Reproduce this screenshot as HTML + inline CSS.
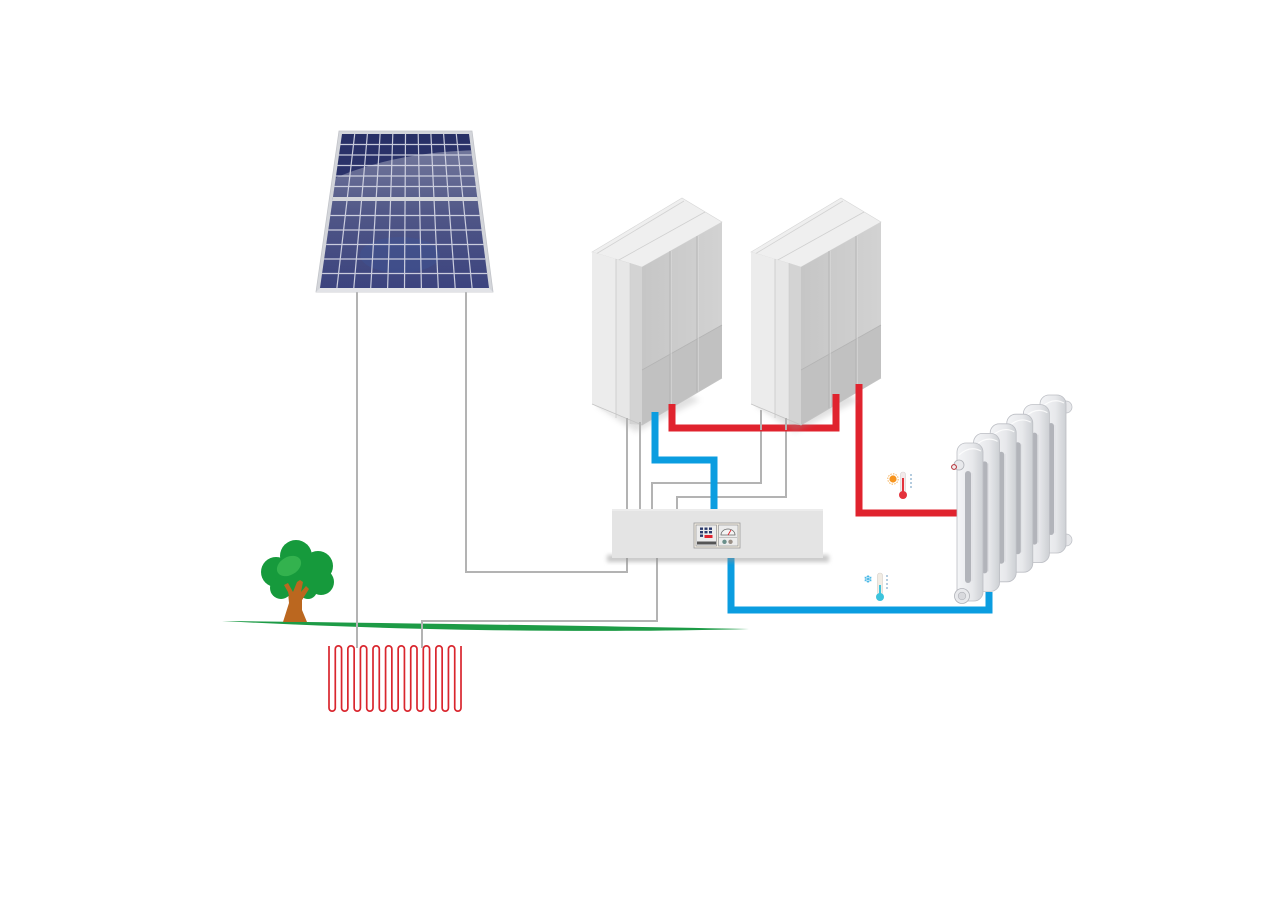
<!DOCTYPE html>
<html><head><meta charset="utf-8"><style>
html,body{margin:0;padding:0;background:#fff;}
svg{display:block;}
</style></head><body>
<svg width="1287" height="908" viewBox="0 0 1287 908" xmlns="http://www.w3.org/2000/svg">
<defs>
  <filter id="blur3" x="-20%" y="-20%" width="140%" height="140%"><feGaussianBlur stdDeviation="3"/></filter>
  <filter id="blur2" x="-20%" y="-50%" width="140%" height="200%"><feGaussianBlur stdDeviation="2"/></filter>
  <linearGradient id="cells" x1="0" y1="0" x2="0" y2="1">
    <stop offset="0" stop-color="#283066"/><stop offset="1" stop-color="#323a78"/>
  </linearGradient>
  <linearGradient id="hl" x1="0" y1="0" x2="0" y2="1">
    <stop offset="0" stop-color="#ffffff" stop-opacity="0.34"/>
    <stop offset="0.45" stop-color="#ffffff" stop-opacity="0.16"/>
    <stop offset="1" stop-color="#ffffff" stop-opacity="0.03"/>
  </linearGradient>
  <clipPath id="cellclip"><polygon points="342,134 469,134 489,288 320,288"/></clipPath>
  <linearGradient id="rad" x1="0" y1="0" x2="1" y2="0">
    <stop offset="0" stop-color="#f4f5f7"/><stop offset="0.6" stop-color="#e7e8eb"/><stop offset="1" stop-color="#cdd0d4"/>
  </linearGradient>
  <linearGradient id="rface" x1="0" y1="0" x2="1" y2="0">
    <stop offset="0" stop-color="#c6c6c6"/><stop offset="1" stop-color="#d2d2d2"/>
  </linearGradient>
  <g id="box">
    <polygon points="596,405 636,432 700,400 660,380" fill="#9a9a9a" opacity="0.3" filter="url(#blur3)"/>
    <polygon points="592,252 682,198 722,222 642,267" fill="#efefef" stroke="#d6d6d6" stroke-width="0.6"/>
    <line x1="596" y1="254" x2="684" y2="201" stroke="#d2d2d2" stroke-width="0.8"/>
    <line x1="617" y1="261" x2="705" y2="212" stroke="#cfcfcf" stroke-width="0.8"/>
    <polygon points="592,252 642,267 642,425 592,404" fill="#e7e7e7"/>
    <polygon points="592,252 616,259 616,418 592,404" fill="#ececec"/>
    <polygon points="630,263 642,267 642,425 630,424" fill="#d3d3d3"/>
    <line x1="616" y1="259" x2="616" y2="418" stroke="#c9c9c9" stroke-width="0.8"/>
    <line x1="630" y1="263" x2="630" y2="424" stroke="#cdcdcd" stroke-width="0.6"/>
    <polygon points="642,267 722,222 722,378 642,425" fill="url(#rface)"/>
    <polygon points="642,370 722,325 722,378 642,425" fill="#c1c1c1"/>
    <line x1="642" y1="370" x2="722" y2="325" stroke="#b4b4b4" stroke-width="0.8"/>
    <line x1="670" y1="251" x2="670" y2="409" stroke="#b3b3b3" stroke-width="0.9"/>
    <line x1="671.2" y1="251" x2="671.2" y2="408" stroke="#dcdcdc" stroke-width="0.7"/>
    <line x1="697" y1="236" x2="697" y2="393" stroke="#b3b3b3" stroke-width="0.9"/>
    <line x1="698.2" y1="236" x2="698.2" y2="392" stroke="#dcdcdc" stroke-width="0.7"/>
    <polyline points="592,404 642,425 722,378" fill="none" stroke="#c4c4c4" stroke-width="0.8"/>
  </g>
  <g id="sec">
    <rect x="0" y="0" width="26" height="158" rx="9" fill="url(#rad)" stroke="#bcbec4" stroke-width="0.8"/>
    <rect x="8" y="28" width="6" height="112" rx="3" fill="#b2b4ba"/>
    <line x1="15" y1="30" x2="15" y2="138" stroke="#dcdde1" stroke-width="0.8"/>
    <path d="M2,12 Q13,2 24,8" fill="none" stroke="#ffffff" stroke-width="1.2" opacity="0.8"/>
  </g>
</defs>

<rect width="1287" height="908" fill="#fff"/>

<!-- ground line -->
<path d="M222,621 C400,623 600,626 749,629 C620,632.5 420,632 222,621 Z" fill="#1d9b46"/>

<!-- tree -->
<g>
  <polygon points="283,622 289,603 288,592 284,585 288,583 293,592 297,582 300,580 303,582 301,592 306,586 309,589 302,600 302,610 307,622" fill="#bb671f"/>
  <g fill="#169a3c">
    <circle cx="276" cy="572" r="15"/>
    <circle cx="296" cy="556" r="16"/>
    <circle cx="318" cy="566" r="15"/>
    <circle cx="321" cy="582" r="13"/>
    <circle cx="281" cy="588" r="11"/>
    <circle cx="300" cy="576" r="18"/>
    <circle cx="308" cy="590" r="9"/>
  </g>
  <ellipse cx="289" cy="566" rx="13" ry="9" fill="#33b24e" transform="rotate(-30 289 566)"/>
  <polygon points="288,592 284,585 288,583 293,592 297,582 300,580 303,582 301,592 306,586 309,589 302,600 290,600" fill="#bb671f"/>
</g>

<!-- ground coil -->
<path d="M329,646 v62 a3.143 3.143 0 0 0 6.286 0 v-59 a3.143 3.143 0 0 1 6.286 0 v59 a3.143 3.143 0 0 0 6.286 0 v-59 a3.143 3.143 0 0 1 6.286 0 v59 a3.143 3.143 0 0 0 6.286 0 v-59 a3.143 3.143 0 0 1 6.286 0 v59 a3.143 3.143 0 0 0 6.286 0 v-59 a3.143 3.143 0 0 1 6.286 0 v59 a3.143 3.143 0 0 0 6.286 0 v-59 a3.143 3.143 0 0 1 6.286 0 v59 a3.143 3.143 0 0 0 6.286 0 v-59 a3.143 3.143 0 0 1 6.286 0 v59 a3.143 3.143 0 0 0 6.286 0 v-59 a3.143 3.143 0 0 1 6.286 0 v59 a3.143 3.143 0 0 0 6.286 0 v-59 a3.143 3.143 0 0 1 6.286 0 v59 a3.143 3.143 0 0 0 6.286 0 v-59 a3.143 3.143 0 0 1 6.286 0 v59 a3.143 3.143 0 0 0 6.286 0 v-59 a3.143 3.143 0 0 1 6.286 0 v59 a3.143 3.143 0 0 0 6.286 0 v-62" fill="none" stroke="#d9262e" stroke-width="1.7"/>

<!-- gray wires -->
<g fill="none" stroke="#b3b3b3" stroke-width="2">
  <polyline points="357,290 357,648"/>
  <polyline points="466,290 466,572 627,572 627,412"/>
  <polyline points="640,415 640,512"/>
  <polyline points="761,410 761,483 652,483 652,512"/>
  <polyline points="786,418 786,497 677,497 677,512"/>
  <polyline points="657,556 657,621 422,621 422,648"/>
</g>

<!-- pipes -->
<g fill="none" stroke-width="7" stroke-linejoin="miter" stroke-linecap="butt">
  <polyline points="672,398 672,428 836,428 836,396" stroke="#e0232e"/>
  <polyline points="859,382 859,513 962,513" stroke="#e0232e"/>
  <polyline points="655,408 655,460 714,460 714,512" stroke="#0b9de0"/>
  <polyline points="731,555 731,610 989,610 989,592" stroke="#0b9de0"/>
</g>

<!-- boxes -->
<use href="#box"/>
<use href="#box" transform="translate(159,0)"/>
<g stroke="#b3b3b3" stroke-width="2">
  <line x1="627" y1="418" x2="627" y2="440"/>
  <line x1="640" y1="422" x2="640" y2="440"/>
  <line x1="761" y1="412" x2="761" y2="430"/>
  <line x1="786" y1="418" x2="786" y2="430"/>
</g>
<g stroke-width="7">
  <line x1="655" y1="412" x2="655" y2="430" stroke="#0b9de0"/>
  <line x1="672" y1="404" x2="672" y2="425" stroke="#e0232e"/>
  <line x1="836" y1="394" x2="836" y2="425" stroke="#e0232e"/>
  <line x1="859" y1="384" x2="859" y2="400" stroke="#e0232e"/>
</g>

<!-- solar panel -->
<g>
  <polygon points="339,131 472,131 493,292 316,292" fill="#d3d5da" stroke="#c2c4c9" stroke-width="0.8"/>
  <polygon points="342,134 469,134 489,288 320,288" fill="url(#cells)"/>
  <g clip-path="url(#cellclip)">
    <path d="M320,185 Q385,152 480,150 L495,300 L310,300 Z" fill="url(#hl)"/>
    <ellipse cx="400" cy="255" rx="40" ry="18" fill="#3d5aa0" opacity="0.3"/>
  </g>
  <g stroke="#d9dbe8" stroke-width="1.2" opacity="0.9">
    <line x1="354.7" y1="134" x2="336.9" y2="288"/>
    <line x1="367.4" y1="134" x2="353.8" y2="288"/>
    <line x1="380.1" y1="134" x2="370.7" y2="288"/>
    <line x1="392.8" y1="134" x2="387.6" y2="288"/>
    <line x1="405.5" y1="134" x2="404.5" y2="288"/>
    <line x1="418.2" y1="134" x2="421.4" y2="288"/>
    <line x1="430.9" y1="134" x2="438.3" y2="288"/>
    <line x1="443.6" y1="134" x2="455.2" y2="288"/>
    <line x1="456.3" y1="134" x2="472.1" y2="288"/>
    <line x1="340.5" y1="144.5" x2="470.4" y2="144.5"/>
    <line x1="339" y1="155" x2="471.7" y2="155"/>
    <line x1="337.5" y1="165.5" x2="473.1" y2="165.5"/>
    <line x1="336" y1="176" x2="474.5" y2="176"/>
    <line x1="334.5" y1="186.5" x2="475.8" y2="186.5"/>
    <line x1="330.4" y1="215.5" x2="479.6" y2="215.5"/>
    <line x1="328.3" y1="230" x2="481.5" y2="230"/>
    <line x1="326.2" y1="244.5" x2="483.4" y2="244.5"/>
    <line x1="324.1" y1="259" x2="485.2" y2="259"/>
    <line x1="322.1" y1="273.5" x2="487.1" y2="273.5"/>
  </g>
  <polygon points="333,197 477.2,197 477.7,201 332.4,201" fill="#d3d5da"/>
  <polygon points="320,288 489,288 493,292 316,292" fill="#e2e3e7"/>
</g>

<!-- control box -->
<rect x="607" y="555" width="222" height="7" fill="#8f8f8f" opacity="0.5" filter="url(#blur2)"/>
<rect x="612" y="509" width="211" height="49" fill="#e4e4e4"/>
<rect x="612" y="509" width="211" height="2" fill="#ececec"/>
<g>
  <rect x="694" y="523" width="46" height="25" fill="#f1ece2" stroke="#9a9a9a" stroke-width="0.8"/>
  <rect x="696" y="525" width="20.5" height="21" fill="#ececec" stroke="#888" stroke-width="0.6"/>
  <rect x="718.5" y="525" width="19.5" height="21" fill="#ececec" stroke="#888" stroke-width="0.6"/>
  <g fill="#2b3a6b">
    <rect x="700" y="527.5" width="3" height="2.4"/><rect x="704.5" y="527.5" width="3" height="2.4"/><rect x="709" y="527.5" width="3" height="2.4"/>
    <rect x="700" y="531" width="3" height="2.4"/><rect x="704.5" y="531" width="3" height="2.4"/><rect x="709" y="531" width="3" height="2.4"/>
    <rect x="700" y="534.5" width="3" height="2.4"/>
  </g>
  <rect x="704.5" y="535" width="8" height="3" fill="#e0232e"/>
  <rect x="697" y="541.5" width="19" height="3" fill="#555"/>
  <path d="M721,535 A7,6 0 0 1 735,535 Z" fill="#f4f4f4" stroke="#666" stroke-width="0.8"/>
  <line x1="728" y1="535" x2="731" y2="530" stroke="#e0232e" stroke-width="0.9"/>
  <line x1="719" y1="537.5" x2="737" y2="537.5" stroke="#999" stroke-width="0.5"/>
  <circle cx="724.5" cy="541.8" r="2.2" fill="#6a8f8a"/>
  <circle cx="730.5" cy="541.8" r="2.2" fill="#9a8f86"/>
</g>

<!-- radiator -->
<g>
  <circle cx="1066" cy="407" r="6" fill="#e6e7ea" stroke="#bcbec4" stroke-width="0.7"/>
  <circle cx="1066" cy="540" r="6" fill="#e6e7ea" stroke="#bcbec4" stroke-width="0.7"/>
  <use href="#sec" transform="translate(1040,395)"/>
  <use href="#sec" transform="translate(1023.4,404.6)"/>
  <use href="#sec" transform="translate(1006.8,414.2)"/>
  <use href="#sec" transform="translate(990.2,423.8)"/>
  <use href="#sec" transform="translate(973.6,433.4)"/>
  <use href="#sec" transform="translate(957,443)"/>
  <circle cx="962" cy="596" r="7.5" fill="#e8e9ec" stroke="#b0b2b8" stroke-width="0.8"/>
  <circle cx="962" cy="596" r="3.8" fill="#d8d9dd" stroke="#b0b2b8" stroke-width="0.6"/>
  <circle cx="959" cy="465" r="5" fill="#e8e9ec" stroke="#b0b2b8" stroke-width="0.8"/>
  <circle cx="954" cy="467" r="2.4" fill="#f0f0f0" stroke="#b3262e" stroke-width="1"/>
</g>

<!-- hot thermometer -->
<g>
  <circle cx="893" cy="479" r="3.6" fill="#f7941d"/>
  <circle cx="893" cy="479" r="5.2" fill="none" stroke="#f7b45d" stroke-width="1" stroke-dasharray="1.5 1.2"/>
  <rect x="900.5" y="472" width="5" height="21" rx="2.5" fill="#f3eaea" stroke="#d6d0d0" stroke-width="0.6"/>
  <rect x="902" y="478" width="2" height="15" fill="#e4323c"/>
  <circle cx="903" cy="495" r="4" fill="#e4323c"/>
  <g stroke="#5a8fb8" stroke-width="0.9">
    <line x1="910" y1="475" x2="912" y2="475"/><line x1="910" y1="479" x2="912" y2="479"/>
    <line x1="910" y1="483" x2="912" y2="483"/><line x1="910" y1="487" x2="912" y2="487"/>
  </g>
</g>

<!-- cold thermometer -->
<g>
  <text x="868" y="583" font-family="DejaVu Sans, sans-serif" font-size="11" fill="#29abe2" text-anchor="middle">❄</text>
  <rect x="877.5" y="573" width="5" height="22" rx="2.5" fill="#f1ece4" stroke="#d6d0c8" stroke-width="0.6"/>
  <rect x="879" y="585" width="2" height="10" fill="#3cc3dc"/>
  <circle cx="880" cy="597" r="4" fill="#3cc3dc"/>
  <g stroke="#5a8fb8" stroke-width="0.9">
    <line x1="886" y1="576" x2="888" y2="576"/><line x1="886" y1="580" x2="888" y2="580"/>
    <line x1="886" y1="584" x2="888" y2="584"/><line x1="886" y1="588" x2="888" y2="588"/>
  </g>
</g>
</svg>
</body></html>
